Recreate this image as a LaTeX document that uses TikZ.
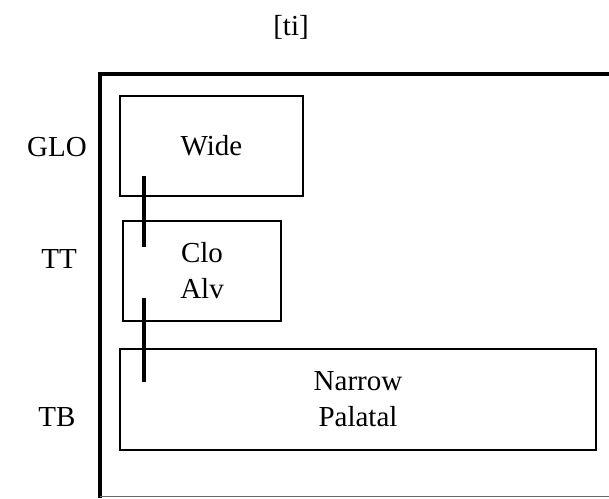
\documentclass[tikz,border=0pt]{standalone}
\usepackage{fontspec}
\setmainfont{Liberation Serif}
\begin{document}
\begin{tikzpicture}[x=1pt,y=-1pt,
    tier/.style={draw,line width=1.5pt,inner sep=0pt,align=center,
      font=\fontsize{29}{36}\selectfont},
    tierlab/.style={font=\fontsize{29}{36}\selectfont},
    phasebar/.style={line width=4.5pt}]
  \useasboundingbox (0,0) rectangle (609,498);
  \node[tierlab] (title) at (291,27) {[ti]};
  \draw[phasebar] (100,498) -- (100,74) -- (609,74);
  \draw[line width=0.8pt,black!60] (100,496) -- (609,496);
  \node[tierlab] (glo) at (57,147) {GLO};
  \node[tierlab] (tt) at (59,259) {TT};
  \node[tierlab] (tb) at (57,417) {TB};
  \node[tier,minimum width=183pt,minimum height=100pt] (wide) at (211.5,146) {Wide};
  \node[tier,minimum width=158pt,minimum height=100pt] (cloalv) at (202,271) {Clo\\Alv};
  \node[tier,minimum width=476pt,minimum height=101pt] (narrow) at (358,399.5) {Narrow\\Palatal};
  \coordinate (a1) at (144,176);
  \coordinate (a2) at (144,247);
  \coordinate (b1) at (144,298);
  \coordinate (b2) at (144,382);
  \draw[phasebar] (a1) -- (a2);
  \draw[phasebar] (b1) -- (b2);
\end{tikzpicture}
\end{document}
